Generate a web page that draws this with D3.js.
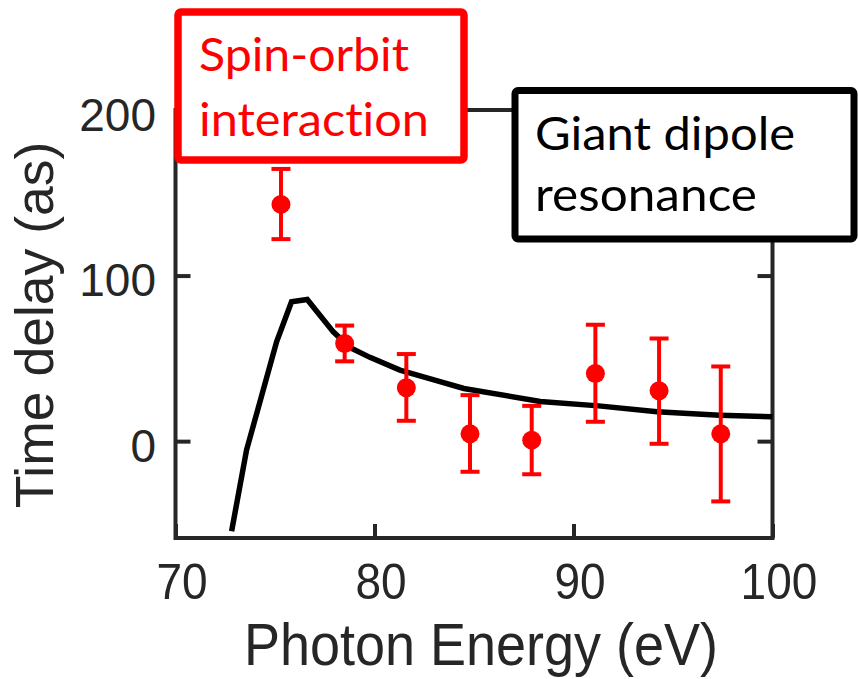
<!DOCTYPE html>
<html>
<head>
<meta charset="utf-8">
<script src="https://cdn.jsdelivr.net/npm/d3@7"></script>
<style>
  html, body { margin: 0; padding: 0; background: #fff; }
  svg { display: block; }
  .boxText { font-variant-ligatures: none; font-feature-settings: "liga" 0, "dlig" 0; }
</style>
</head>
<body>
<svg id="chart" width="858" height="679"></svg>
<script>
// Measured photoemission time delays (with error bounds) vs photon energy
const energies   = [75.3, 78.5, 81.6, 84.8, 87.9, 91.1, 94.3, 97.4];
const delays     = [143.0, 59.0, 32.2, 4.4, 0.6, 40.9, 30.4, 4.4];
const delayLow   = [122.0, 48.2, 12.3, -18.5, -20.0, 11.7, -1.6, -36.4];
const delayHigh  = [164.4, 69.8, 52.6, 27.8, 21.3, 70.3, 62.0, 45.1];

// Theoretical curve (giant dipole resonance model)
const theoryEnergy = [72.82, 73.57, 75.08, 75.83, 76.62, 77.93, 78.76, 79.77, 81.28, 83.03, 84.49, 88.33, 91.26, 94.2, 97.34, 100];
const theoryDelay  = [-54.4, -5.4, 60.0, 84.2, 85.6, 66.0, 56.6, 50.6, 42.9, 36.9, 31.8, 24.0, 21.3, 17.7, 15.7, 14.7];

const xTicks = [70, 80, 90, 100];
const yTicks = [0, 100, 200];

const xLabel = "Photon Energy (eV)";
const yLabel = "Time delay (as)";
const redLines = ["Spin-orbit", "interaction"];
const blackLines = ["Giant dipole", "resonance"];

const svg = d3.select("#chart");
const axisColor = "#262626";
const plotL = 175.5, plotR = 772.5, plotT = 110, plotB = 538;

const x = d3.scaleLinear().domain([70, 100]).range([plotL, plotR]);
const y = d3.scaleLinear().domain([-58.5, 200]).range([plotB, plotT]);

const axisFont = "'Liberation Sans', Arial, sans-serif";

// Axes with inward ticks
const gB = svg.append("g").attr("transform", `translate(0,${plotB})`)
  .call(d3.axisBottom(x).tickValues(xTicks).tickSizeInner(-14).tickSizeOuter(0).tickFormat(d3.format("d")));
gB.selectAll("text")
  .attr("x", 0).attr("y", 0).attr("dy", null)
  .attr("transform", "translate(6,61) scale(1,1.09)")
  .attr("font-size", 46);

const gT = svg.append("g").attr("transform", `translate(0,${plotT})`)
  .call(d3.axisTop(x).tickValues(xTicks).tickSizeInner(-14).tickSizeOuter(0).tickFormat(""));

const gL = svg.append("g").attr("transform", `translate(${plotL},0)`)
  .call(d3.axisLeft(y).tickValues(yTicks).tickSizeInner(-15).tickSizeOuter(0).tickFormat(d3.format("d")));
gL.selectAll("text")
  .attr("x", -19.5).attr("dy", null).attr("y", 20)
  .attr("font-size", 46);

const gR = svg.append("g").attr("transform", `translate(${plotR},0)`)
  .call(d3.axisRight(y).tickValues(yTicks).tickSizeInner(-15).tickSizeOuter(0).tickFormat(""));

svg.selectAll(".domain").remove();
[gB, gT, gL, gR].forEach(g => {
  g.attr("font-family", axisFont);
  g.selectAll("line").attr("stroke", axisColor).attr("stroke-width", 4);
  g.selectAll("text").attr("fill", axisColor);
});

// Frame
svg.append("rect")
  .attr("x", plotL).attr("y", plotT)
  .attr("width", plotR - plotL).attr("height", plotB - plotT)
  .attr("fill", "none").attr("stroke", axisColor).attr("stroke-width", 4);

// Axis titles
svg.append("text")
  .attr("transform", `translate(${(plotL + plotR) / 2 + 7},665) scale(1,1.1)`)
  .attr("text-anchor", "middle")
  .attr("font-family", axisFont).attr("font-size", 54)
  .attr("fill", axisColor)
  .text(xLabel);

svg.append("text")
  .attr("transform", "translate(53,325) rotate(-90)")
  .attr("text-anchor", "middle")
  .attr("font-family", axisFont).attr("font-size", 53.5)
  .attr("fill", axisColor)
  .text(yLabel);

// Theory curve
const theory = theoryEnergy.map((e, i) => [e, theoryDelay[i]]);
svg.append("path")
  .datum(theory)
  .attr("d", d3.line().x(d => x(d[0])).y(d => y(d[1])))
  .attr("fill", "none")
  .attr("stroke", "#000")
  .attr("stroke-width", 5.5)
  .attr("stroke-linejoin", "miter");

// Measured points with error bars
const red = "#ff0000";
const pts = energies.map((e, i) => ({ e, v: delays[i], lo: delayLow[i], hi: delayHigh[i] }));
const gp = svg.append("g");
const capW = 9.5;
gp.selectAll("line.stem").data(pts).join("line").attr("class", "stem")
  .attr("x1", d => x(d.e)).attr("x2", d => x(d.e))
  .attr("y1", d => y(d.lo)).attr("y2", d => y(d.hi))
  .attr("stroke", red).attr("stroke-width", 4);
gp.selectAll("line.capTop").data(pts).join("line").attr("class", "capTop")
  .attr("x1", d => x(d.e) - capW).attr("x2", d => x(d.e) + capW)
  .attr("y1", d => y(d.hi)).attr("y2", d => y(d.hi))
  .attr("stroke", red).attr("stroke-width", 4);
gp.selectAll("line.capBot").data(pts).join("line").attr("class", "capBot")
  .attr("x1", d => x(d.e) - capW).attr("x2", d => x(d.e) + capW)
  .attr("y1", d => y(d.lo)).attr("y2", d => y(d.lo))
  .attr("stroke", red).attr("stroke-width", 4);
gp.selectAll("circle").data(pts).join("circle")
  .attr("cx", d => x(d.e)).attr("cy", d => y(d.v))
  .attr("r", 9.5).attr("fill", red);

// Annotation boxes
const boxFont = "Lato, 'Open Sans', sans-serif";
function box(rx, ry, w, h, color, sw, lines, tx, baselines, widths) {
  svg.append("rect")
    .attr("x", rx).attr("y", ry).attr("width", w).attr("height", h)
    .attr("rx", 3)
    .attr("fill", "#fff").attr("stroke", color).attr("stroke-width", sw);
  lines.forEach((t, i) => {
    svg.append("text")
      .attr("class", "boxText")
      .attr("x", tx).attr("y", baselines[i])
      .attr("font-family", boxFont).attr("font-size", 47)
      .attr("fill", color)
      .attr("textLength", widths[i]).attr("lengthAdjust", "spacingAndGlyphs")
      .text(t);
  });
}
box(178, 12, 286, 148, red, 7.5, redLines, 199, [71, 136], [210, 230]);
box(515, 90.5, 339, 148.5, "#000", 7, blackLines, 535, [150, 211], [260, 222]);
</script>
</body>
</html>
